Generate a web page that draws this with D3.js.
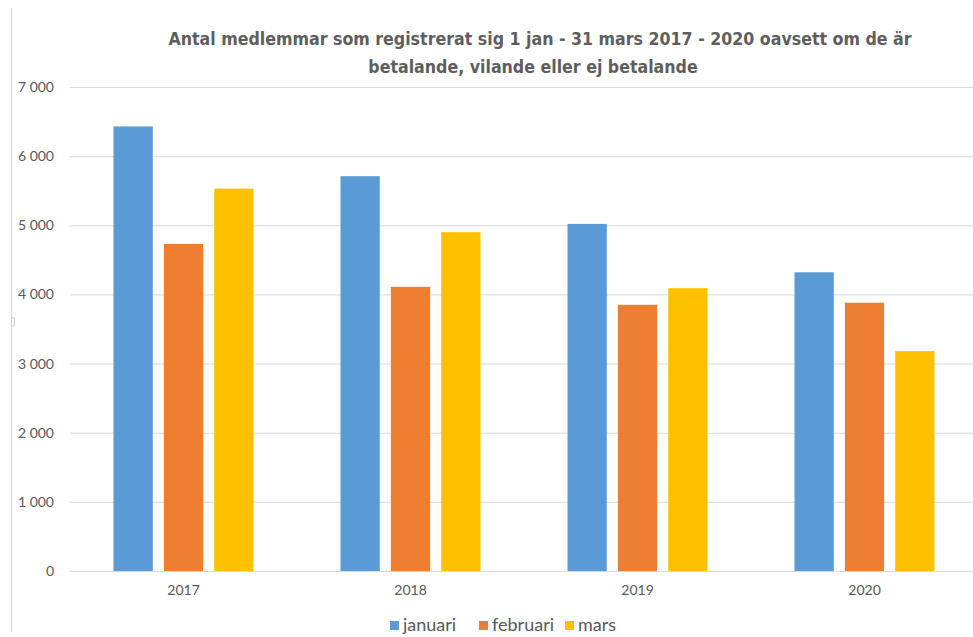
<!DOCTYPE html>
<html>
<head>
<meta charset="utf-8">
<script src="https://cdn.jsdelivr.net/npm/d3@7"></script>
<style>
  body { margin: 0; background: #fff; }
</style>
</head>
<body>
<div id="chart"></div>
<script>
const years = ['2017', '2018', '2019', '2020'];
const months = ['januari', 'februari', 'mars'];
const januari = [6430, 5710, 5020, 4320];
const februari = [4730, 4110, 3850, 3880];
const mars = [5530, 4900, 4090, 3180];
const yTicks = [0, 1000, 2000, 3000, 4000, 5000, 6000, 7000];
const colors = ['#5B9BD5', '#ED7D31', '#FFC000'];

const series = [januari, februari, mars];
const data = years.map((y, i) => ({
    year: y,
    values: months.map((m, j) => ({ month: m, value: series[j][i] }))
}));

const width = 973;
const height = 637;
const margin = { top: 87, right: -5, bottom: 66, left: 70 };

const svg = d3.select('#chart')
    .append('svg')
    .attr('width', width)
    .attr('height', height);

// screenshot frame line on the left
svg.append('line')
    .attr('x1', 11.5).attr('x2', 11.5)
    .attr('y1', 8).attr('y2', 632)
    .attr('stroke', '#d4d4d4');
svg.append('path')
    .attr('d', 'M11.5,318 h3 v8 h-3')
    .attr('fill', 'none')
    .attr('stroke', '#cfcfcf');

const x0 = d3.scaleBand()
    .domain(years)
    .range([margin.left, width - margin.right])
    .padding(0);

const x1 = d3.scaleBand()
    .domain(months)
    .range([43.5, x0.bandwidth() - 43.5])
    .paddingInner(0.22);

const yScale = d3.scaleLinear()
    .domain([0, 7000])
    .range([height - margin.bottom, margin.top]);

const color = d3.scaleOrdinal().domain(months).range(colors);

const fmt = d3.formatLocale({ decimal: ',', thousands: ' ', grouping: [3], currency: ['', ''] }).format(',');

// gridlines
svg.append('g')
    .attr('class', 'grid')
    .attr('transform', `translate(${margin.left}, 0)`)
    .call(d3.axisLeft(yScale)
        .tickValues(yTicks)
        .tickSize(-(width - margin.right - margin.left))
        .tickFormat(''))
    .call(g => g.select('.domain').remove())
    .call(g => g.selectAll('line').attr('stroke', '#d9d9d9'));

// y axis labels
svg.append('g')
    .attr('class', 'y-axis')
    .attr('transform', `translate(${margin.left}, 0)`)
    .call(d3.axisLeft(yScale)
        .tickValues(yTicks)
        .tickSize(0)
        .tickPadding(16)
        .tickFormat(fmt))
    .call(g => g.select('.domain').remove())
    .call(g => g.selectAll('text')
        .attr('fill', '#595959')
        .style('font-family', 'Lato, "Open Sans", sans-serif')
        .style('font-size', '14px'));

// bars
svg.append('g')
    .selectAll('g')
    .data(data)
    .enter()
    .append('g')
    .attr('transform', d => `translate(${x0(d.year)}, 0)`)
    .selectAll('rect')
    .data(d => d.values)
    .enter()
    .append('rect')
    .attr('x', d => x1(d.month))
    .attr('y', d => yScale(d.value))
    .attr('width', x1.bandwidth())
    .attr('height', d => yScale(0) - yScale(d.value))
    .attr('fill', d => color(d.month));

// x axis
svg.append('g')
    .attr('class', 'x-axis')
    .attr('transform', `translate(0, ${yScale(0)})`)
    .call(d3.axisBottom(x0).tickSize(0).tickPadding(14))
    .call(g => g.select('.domain').attr('stroke', '#d9d9d9'))
    .call(g => g.selectAll('text')
        .attr('fill', '#595959')
        .style('font-family', 'Lato, "Open Sans", sans-serif')
        .style('font-size', '14px'));

// title, sized to the width it has in the reference
const titleLines = [
    { text: 'Antal medlemmar som registrerat sig 1 jan - 31 mars 2017 - 2020 oavsett om de är', x: 540, y: 45, w: 744 },
    { text: 'betalande, vilande eller ej betalande', x: 533, y: 73, w: 334 }
];
const title = svg.append('g')
    .attr('fill', '#5e5e5e')
    .style('font-family', '"Liberation Sans Narrow", "DejaVu Sans Condensed", sans-serif')
    .style('font-weight', 'bold')
    .attr('text-anchor', 'middle');
const t0 = title.append('text')
    .style('font-size', '20px')
    .text(titleLines[0].text);
const titleSize = 20 * titleLines[0].w / t0.node().getComputedTextLength();
t0.remove();
title.selectAll('text')
    .data(titleLines)
    .enter()
    .append('text')
    .attr('x', d => d.x)
    .attr('y', d => d.y)
    .style('font-size', titleSize + 'px')
    .text(d => d.text);

// legend
const legendX = [390, 479, 565];
const legend = svg.append('g')
    .selectAll('g')
    .data(months)
    .enter()
    .append('g')
    .attr('transform', (d, i) => `translate(${legendX[i]}, 621)`);
legend.append('rect')
    .attr('width', 9).attr('height', 9)
    .attr('fill', d => color(d));
legend.append('text')
    .attr('x', 13).attr('y', 10)
    .attr('fill', '#595959')
    .style('font-family', 'Lato, "Open Sans", sans-serif')
    .style('font-size', '18px')
    .text(d => d);
</script>
</body>
</html>
